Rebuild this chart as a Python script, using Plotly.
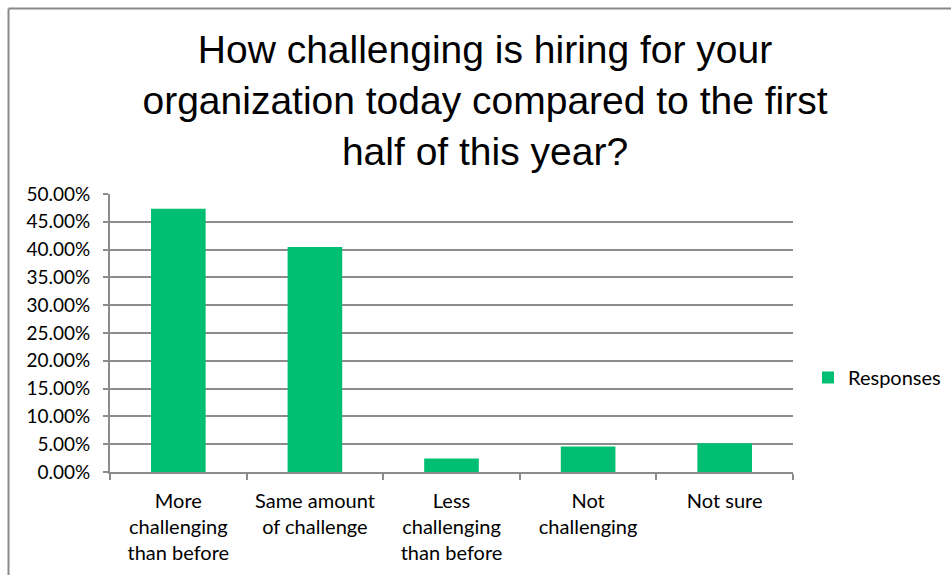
import plotly.graph_objects as go

# Survey answers and share of responses
categories = [
    "More<br>challenging<br>than before",
    "Same amount<br>of challenge",
    "Less<br>challenging<br>than before",
    "Not<br>challenging",
    "Not sure",
]
responses = [0.4736, 0.4047, 0.0243, 0.0457, 0.0517]
series_name = "Responses"
title_text = ("How challenging is hiring for your<br>"
              "organization today compared to the first<br>"
              "half of this year?")
y_ticks = [i * 0.05 for i in range(11)]

GREEN = "#00bf72"
GRID = "#8c8c8c"
LABEL_FONT = "Lato, Liberation Sans, sans-serif"

fig = go.Figure(
    go.Bar(
        x=categories,
        y=responses,
        name=series_name,
        marker=dict(color=GREEN, line=dict(width=0)),
        showlegend=True,
    )
)

fig.update_layout(
    width=951,
    height=575,
    margin=dict(l=110, r=158, t=194, b=103, autoexpand=False),
    paper_bgcolor="white",
    plot_bgcolor="white",
    bargap=0.6,
    title=dict(
        text=title_text,
        x=0.51,
        xanchor="center",
        y=0.89,
        yanchor="top",
        font=dict(family="Liberation Sans, Arial, sans-serif", size=39, color="#000000"),
    ),
    legend=dict(
        x=1.022,
        y=0.34,
        xanchor="left",
        yanchor="middle",
        font=dict(family=LABEL_FONT, size=20, color="#000000"),
        itemwidth=30,
        bgcolor="rgba(0,0,0,0)",
    ),
    showlegend=True,
)

fig.update_xaxes(
    type="category",
    showline=True,
    linecolor=GRID,
    linewidth=2,
    ticks="outside",
    tickson="boundaries",
    ticklen=6,
    tickcolor=GRID,
    tickwidth=2,
    showgrid=False,
    ticklabelstandoff=10,
    tickfont=dict(family=LABEL_FONT, size=20, color="#000000"),
    fixedrange=True,
)

fig.update_yaxes(
    range=[0, 0.5],
    tickvals=y_ticks,
    tickformat=".2%",
    showline=True,
    linecolor=GRID,
    linewidth=2,
    ticks="outside",
    ticklen=5,
    tickcolor=GRID,
    tickwidth=2,
    showgrid=True,
    gridcolor=GRID,
    gridwidth=2,
    zeroline=False,
    ticklabelstandoff=9,
    tickfont=dict(family=LABEL_FONT, size=19, color="#000000"),
    fixedrange=True,
)

# Chart-area frame: top and left edges
fig.add_shape(type="line", xref="paper", yref="paper",
              x0=-0.1486, x1=1.25, y0=1.667, y1=1.667,
              line=dict(color="#8a8a8a", width=2))
fig.add_shape(type="line", xref="paper", yref="paper",
              x0=-0.1486, x1=-0.1486, y0=1.667, y1=-0.4,
              line=dict(color="#8a8a8a", width=2))

fig.write_html("out.html")
